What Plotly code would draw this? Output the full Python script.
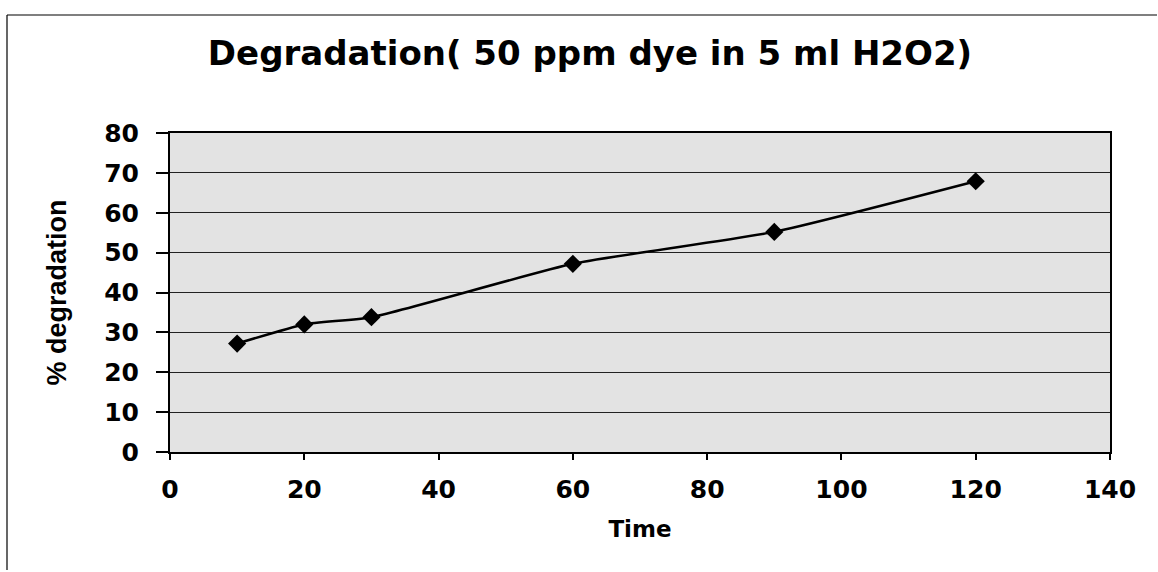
import plotly.graph_objects as go

time = [10, 20, 30, 60, 90, 120]
degradation = [27.2, 32.0, 33.8, 47.2, 55.2, 67.9]
title_text = "Degradation( 50 ppm dye in 5 ml H2O2)"
x_title = "Time"
y_title = "% degradation"

WIDE = "DejaVu Sans, Verdana, sans-serif"
FONT = "Liberation Sans, Arial, sans-serif"

fig = go.Figure()
fig.add_trace(go.Scatter(
    x=time, y=degradation, mode="lines+markers",
    line=dict(color="black", width=2.5, shape="spline", smoothing=0.5),
    marker=dict(symbol="diamond", size=14, color="black"),
    showlegend=False,
))

fig.update_layout(
    width=1158, height=572,
    margin=dict(l=170, r=48, t=133, b=120),
    paper_bgcolor="white",
    plot_bgcolor="#e3e3e3",
    font=dict(family=WIDE, color="black"),
    title=dict(text=title_text, x=590 / 1158, xref="container", xanchor="center",
               y=1 - 53 / 572, yref="container", yanchor="middle",
               font=dict(family=WIDE, size=34, weight="bold", color="black")),
    shapes=[
        dict(type="line", xref="paper", yref="paper", x0=-163 / 940, x1=1.05,
             y0=1 + 118 / 319, y1=1 + 118 / 319, line=dict(color="black", width=1.2)),
        dict(type="line", xref="paper", yref="paper", x0=-163 / 940, x1=-163 / 940,
             y0=1 + 118 / 319, y1=-118 / 319, line=dict(color="black", width=1.2)),
    ],
)

fig.update_xaxes(
    range=[0, 140], tickvals=[0, 20, 40, 60, 80, 100, 120, 140],
    showgrid=False, zeroline=False,
    showline=True, linecolor="black", linewidth=2, mirror=True,
    ticks="outside", ticklen=6, tickcolor="black", tickwidth=1.5,
    ticklabelstandoff=8,
    tickfont=dict(family=WIDE, size=25, weight="bold", color="black"),
    title=dict(text=x_title, standoff=18,
               font=dict(family=WIDE, size=23, weight="bold", color="black")),
)
fig.update_yaxes(
    range=[0, 80], tickvals=[0, 10, 20, 30, 40, 50, 60, 70, 80],
    showgrid=True, gridcolor="#222222", gridwidth=1.3, zeroline=False,
    showline=True, linecolor="black", linewidth=2, mirror=True,
    ticks="outside", ticklen=12, tickcolor="black", tickwidth=1.5,
    ticklabelstandoff=12,
    tickfont=dict(family=WIDE, size=25, weight="bold", color="black"),
    title=dict(text=y_title, standoff=30,
               font=dict(family=FONT, size=27, weight="bold", color="black")),
)

fig.write_html("out.html")
